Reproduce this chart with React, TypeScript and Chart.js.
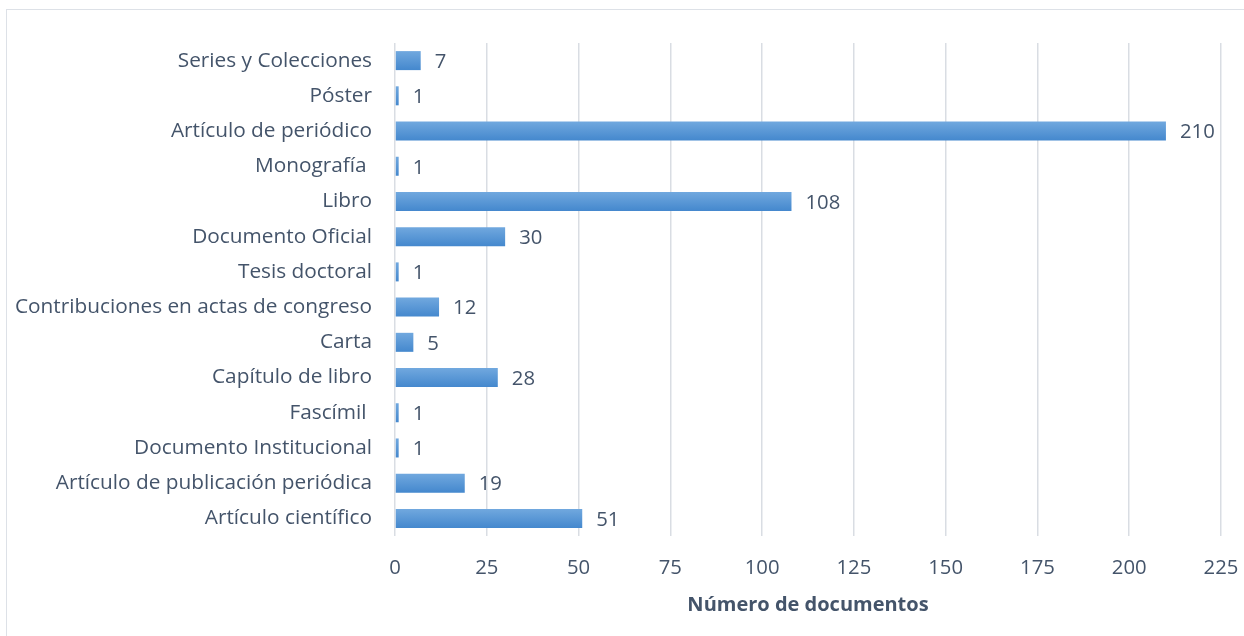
import React, { useEffect, useRef } from "react";
import { Chart, registerables } from "chart.js";

Chart.register(...registerables);

const categories: string[] = [
  "Series y Colecciones",
  "Póster",
  "Artículo de periódico",
  "Monografía ",
  "Libro",
  "Documento Oficial",
  "Tesis doctoral",
  "Contribuciones en actas de congreso",
  "Carta",
  "Capítulo de libro",
  "Fascímil ",
  "Documento Institucional",
  "Artículo de publicación periódica",
  "Artículo científico",
];

const documentCounts: number[] = [7, 1, 210, 1, 108, 30, 1, 12, 5, 28, 1, 1, 19, 51];

const xTickMin = 0;
const xTickMax = 225;
const xTickStep = 25;
const xAxisTitle = "Número de documentos";

const TEXT_COLOR = "#44546A";
const GRID_COLOR = "#D9DDE3";
const FONT_FAMILY = "'Open Sans', Lato, sans-serif";
const FONT_SIZE = 20.3;
const CAT_FONT_SIZE = 20.8;

const valueLabels = {
  id: "valueLabels",
  afterDatasetsDraw(chart: any) {
    const ctx = chart.ctx;
    const meta = chart.getDatasetMeta(0);
    const data = chart.data.datasets[0].data as number[];
    ctx.save();
    ctx.fillStyle = TEXT_COLOR;
    ctx.font = `${FONT_SIZE}px ${FONT_FAMILY}`;
    ctx.textAlign = "left";
    ctx.textBaseline = "middle";
    meta.data.forEach((el: any, i: number) => {
      ctx.fillText(String(data[i]), el.x + 14, el.y + 1.5);
    });
    ctx.restore();
  },
};

export default function App() {
  const canvasRef = useRef<HTMLCanvasElement | null>(null);

  useEffect(() => {
    if (!canvasRef.current) return;
    const chart = new Chart(canvasRef.current, {
      type: "bar",
      data: {
        labels: categories,
        datasets: [
          {
            data: documentCounts,
            backgroundColor: (context: any) => {
              const c = context.chart;
              const yScale = c.scales && c.scales.y;
              if (!yScale || context.dataIndex === undefined || !c.chartArea) return "#5B9BD5";
              const y = yScale.getPixelForValue(context.dataIndex);
              const g = c.ctx.createLinearGradient(0, y - 10, 0, y + 10);
              g.addColorStop(0, "#72A9DF");
              g.addColorStop(1, "#4387CD");
              return g;
            },
            borderWidth: 0,
            barPercentage: 0.9,
            categoryPercentage: 0.6,
          },
        ],
      },
      options: {
        indexAxis: "y",
        responsive: false,
        animation: false,
        devicePixelRatio: 1,
        layout: { padding: { top: 43, right: 23, bottom: 0, left: 0 } },
        plugins: {
          legend: { display: false },
          tooltip: { enabled: false },
        },
        scales: {
          x: {
            min: xTickMin,
            max: xTickMax,
            ticks: {
              stepSize: xTickStep,
              color: TEXT_COLOR,
              font: { family: FONT_FAMILY, size: FONT_SIZE },
              padding: 20,
            },
            grid: { color: GRID_COLOR, lineWidth: 1.5, drawTicks: false },
            border: { display: false },
            title: {
              display: true,
              text: xAxisTitle,
              color: TEXT_COLOR,
              font: { family: FONT_FAMILY, size: 20, weight: "bold" },
              padding: { top: 0, bottom: 19 },
            },
            afterFit: (scale: any) => {
              scale.height = 100;
              scale.paddingLeft = 0;
              scale.paddingRight = 0;
            },
          },
          y: {
            ticks: {
              color: TEXT_COLOR,
              font: { family: FONT_FAMILY, size: CAT_FONT_SIZE },
              padding: 23,
              autoSkip: false,
            },
            grid: { display: false, drawTicks: false },
            border: { display: false },
            afterFit: (scale: any) => {
              scale.width = 395;
            },
          },
        },
      },
      plugins: [valueLabels],
    });
    return () => chart.destroy();
  }, []);

  return (
    <div
      style={{
        position: "fixed",
        left: 0,
        top: 0,
        width: 1244,
        height: 636,
        overflow: "hidden",
        background: "#fff",
      }}
    >
      <div
        style={{
          position: "absolute",
          left: 6,
          top: 9,
          width: 1300,
          height: 700,
          border: "1.5px solid #DDE1E7",
        }}
      />
      <canvas
        ref={canvasRef}
        width={1244}
        height={636}
        style={{ position: "absolute", left: 0, top: 0 }}
      />
    </div>
  );
}
